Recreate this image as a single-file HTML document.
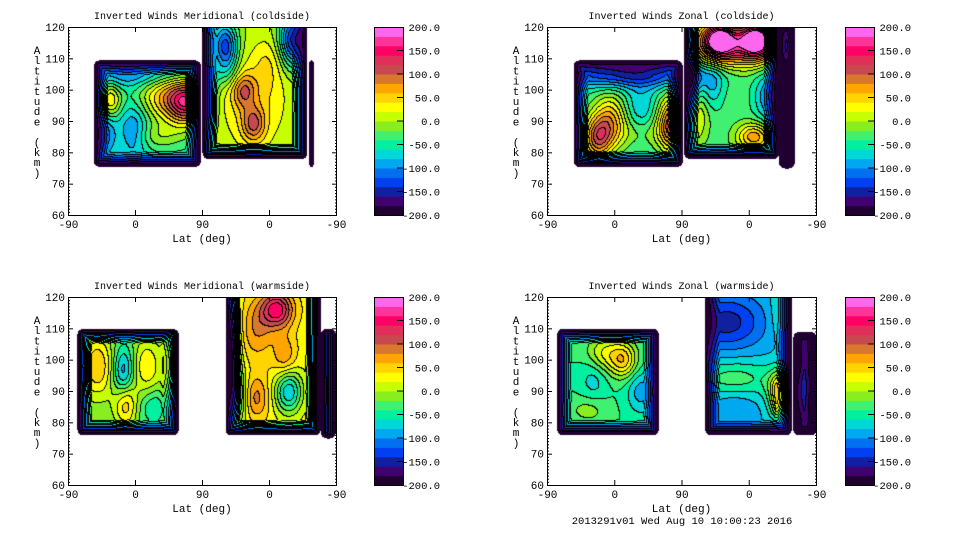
<!DOCTYPE html>
<html><head><meta charset="utf-8"><style>
body{margin:0;background:#fff;width:960px;height:540px;overflow:hidden;position:relative;font-family:"Liberation Mono",monospace}
canvas{position:absolute}
svg{position:absolute;left:0;top:0}
</style></head><body>
<canvas id="c0" width="268" height="188" style="left:68px;top:27px"></canvas>
<canvas id="c1" width="269" height="188" style="left:547px;top:27px"></canvas>
<canvas id="c2" width="268" height="188" style="left:68px;top:297px"></canvas>
<canvas id="c3" width="269" height="188" style="left:547px;top:297px"></canvas>
<svg id="s" width="960" height="540"></svg>
<script>
// colour levels (bottom -> top), each 20 wide from -200 to 200
const levelColors=["#200030","#400070","#1020a0","#0040f0","#0070f0","#00a8f0","#00d8d8","#00f0a0","#40f070","#88ee20","#c8ff00","#ffff00","#ffd400","#ffa500","#d8782e","#c84850","#e0305a","#ff0066","#ff3399","#ff66ee"];
const cbTicks=[200,150,100,50,0,-50,-100,-150,-200];
const cbLabels=["200.0","150.0","100.0","50.0","0.0","-50.0","-100.0","-150.0","-200.0"];
const altTicks=[60,70,80,90,100,110,120];
const trackTicks=[0,90,180,270,360];
const trackLabels=["-90","0","90","0","-90"];
const titles=["Inverted Winds Meridional (coldside)","Inverted Winds Zonal (coldside)","Inverted Winds Meridional (warmside)","Inverted Winds Zonal (warmside)"];
// blocks: [t0,t1,alt0,alt1,base]
const tlBlocks=[[34,178,75.5,109.5,-50],[180,321,78,120,0],[323,330,75,110,-215]];
const trBlocks=[[35,181,75.5,109.5,-40],[183,310,78,120,-30],[310,331,75,120,-220]];
const blBlocks=[[12,148,76,110,-20],[211,339,76,120,30],[339,359,75,110,-40]];
const brBlocks=[[13,149,76,110,-40],[211,327,76,120,-80],[329,360,76,109,-150]];
// blobs: [t, alt, peak value, sigma t, sigma alt]
const tlBlobs=[[56,96.7,40,11,4],[47,86,-120,11,5],[88,87,-110,14,6],[130,98,50,26,6],[160,96,115,18,5],[120,85,-10,26,3],[100,105,-110,60,3],
 [213,113,-110,11,6],[303,116,-150,13,6],[187,96,-120,9,6],[249,96,40,34,11],[236,100,75,11,4],[249,89,80,11,4],[268,108,30,14,6],[200,115,-40,14,5]];
const trBlobs=[[67,84.5,80,13,5],[85,90,60,16,6],[125,86,-20,32,3],[170,89,135,15,6],[110,105,-150,70,3],[125,95,-80,16,5],
 [230,116,150,14,3.5],[280,116,150,14,3.5],[255,114,120,45,5],[192,101,-140,9,7],[220,101,-80,11,5],[296,98,-100,13,6],[200,93,30,11,6],[277,85,75,16,3]];
const blBlobs=[[39,98,60,16,7],[74,96,-100,10,6],[106,98,40,13,6],[77,86,60,11,5],[144,101,140,8,6],[142,92,60,8,7],[115,85,-60,14,4],
 [281,116,150,15,4],[254,110,80,16,7],[291,101,80,11,5],[218,101,-150,8,12],[228,88,-40,11,6],[251,88,90,13,5],[296,90,-80,13,5],[339,90,-215,4,20]];
const brBlobs=[[102,100,50,13,4],[75,102,20,16,4],[62,94,-70,13,5],[125,90,-90,13,5],[55,84,-10,18,3],
 [240,112,-150,35,6],[317,115,-40,11,6],[250,94,-30,40,4],[317,91,75,13,4],[317,85,30,11,3],[250,85,-100,20,4],[211,100,60,4,6],[331,91,-220,6,9]];
const allBlocks=[tlBlocks,trBlocks,blBlocks,brBlocks];
const allBlobs=[tlBlobs,trBlobs,blBlobs,brBlobs];
const panelX=[68,547,68,547], panelY=[27,27,297,297], panelW=[268,269,268,269], PH=188;
const cbX=[374,845,374,845];

function hex(c){return [parseInt(c.substr(1,2),16),parseInt(c.substr(3,2),16),parseInt(c.substr(5,2),16)];}
const rgb=levelColors.map(hex);

for(let p=0;p<4;p++){
  const W=panelW[p];
  const tx=t=>t/360*W, ay=a=>(120-a)/60*PH;
  const blocks=allBlocks[p], blobs=allBlobs[p];
  const lev=new Int16Array(W*PH).fill(-1);
  const R=6;
  for(let y=0;y<PH;y++)for(let x=0;x<W;x++){
    const t=x/W*360, a=120-y/PH*60;
    let v=null;
    for(const b of blocks){
      const x0=tx(b[0]),x1=tx(b[1]),y0=ay(b[3]),y1=ay(b[2]);
      if(x<x0||x>x1||y<y0||y>y1)continue;
      const dx=Math.min(x-x0,x1-x);
      const dy=b[3]>=120?(y1-y):Math.min(y-y0,y1-y);
      let d;
      if(dx<R&&dy<R){d=R-Math.hypot(R-dx,R-dy);if(d<0)continue;}else d=Math.min(dx,dy);
      let val=b[4];
      for(const g of blobs){
        const e=Math.exp(-0.5*((t-g[0])/g[3])**2-0.5*((a-g[1])/g[4])**2);
        val+=(g[2]-b[4])*e;
      }
      const f=Math.min(1,d/15);
      val=-215+(val+215)*f;
      v=val;break;
    }
    if(v===null)continue;
    lev[y*W+x]=Math.max(0,Math.min(19,Math.floor((v+200)/20)));
  }
  const cv=document.getElementById('c'+p),ctx=cv.getContext('2d');
  const img=ctx.createImageData(W,PH);
  for(let y=0;y<PH;y++)for(let x=0;x<W;x++){
    const i=y*W+x,l=lev[i],o=i*4;
    let c=[255,255,255];
    if(l>=0){
      c=rgb[l];
      const r=x+1<W?lev[i+1]:-1, dn=y+1<PH?lev[i+W]:-1;
      if((r>=0&&r!==l)||(dn>=0&&dn!==l))c=[0,0,0];
    }
    img.data[o]=c[0];img.data[o+1]=c[1];img.data[o+2]=c[2];img.data[o+3]=255;
  }
  ctx.putImageData(img,0,0);
}

const NS="http://www.w3.org/2000/svg", svg=document.getElementById('s');
function mk(tag,at,txt){const e=document.createElementNS(NS,tag);for(const k in at)e.setAttribute(k,at[k]);if(txt!==undefined)e.textContent=txt;svg.appendChild(e);return e;}
for(let p=0;p<4;p++){
  const X=panelX[p],Y=panelY[p],W=panelW[p];
  let e=mk('rect',{x:X+0.5,y:Y+0.5,width:W,height:PH,fill:'none',stroke:'#000'});
  
  
  e=mk('text',{x:X+W/2,y:Y-8,'font-size':10,'text-anchor':'middle'},titles[p]);
  
  
  for(let a=60;a<=120;a++){
    const y=Y+0.5+(120-a)/60*PH, L=a%10===0?5:2;
    mk('line',{x1:X,x2:X+L,y1:y,y2:y,stroke:'#000'});
    mk('line',{x1:X+W+1,x2:X+W+1-L,y1:y,y2:y,stroke:'#000'});
  }
  altTicks.forEach(a=>{
    e=mk('text',{x:X-3,y:Y+(120-a)/60*PH+4,'font-size':11,'text-anchor':'end'},String(a));
    
    
  });
  trackTicks.forEach((t,i)=>{
    const x=X+0.5+t/360*W;
    mk('line',{x1:x,x2:x,y1:Y+PH,y2:Y+PH-5,stroke:'#000'});
    mk('line',{x1:x,x2:x,y1:Y,y2:Y+5,stroke:'#000'});
    e=mk('text',{x:x,y:Y+PH+13,'font-size':11,'text-anchor':'middle'},trackLabels[i]);
    
    
  });
  e=mk('text',{x:X+W/2,y:Y+PH+27,'font-size':11,'text-anchor':'middle'},"Lat (deg)");
  
  
  const lab="Altitude (km)";
  const g=mk('text',{x:X-31,y:Y+27,'font-size':11,'text-anchor':'middle'});
  
  
  for(let i=0;i<lab.length;i++){const ts=document.createElementNS(NS,'tspan');ts.setAttribute('x',X-31);ts.setAttribute('y',Y+27+i*10.2);ts.textContent=lab[i]===' '?'\u00a0':lab[i];g.appendChild(ts);}
  // colorbar
  const cx=cbX[p], cy0=Y, ch=188, bw=29;
  const cbY=v=>cy0+(200-v)/400*ch;
  levelColors.forEach((c,i)=>{
    const v0=-200+i*20;
    e=mk('rect',{x:cx,y:cbY(v0+20),width:bw,height:ch/20+0.5,fill:c});
    
    
  });
  mk('rect',{x:cx+0.5,y:cy0+0.5,width:bw,height:ch,fill:'none',stroke:'#000'});
  cbTicks.forEach((v,i)=>{
    const y=cbY(v);
    if(v<200&&v>-200)mk('line',{x1:cx+bw,x2:cx+bw-6,y1:y,y2:y,stroke:'#000'});
    e=mk('text',{x:cx+66,y:y+4,'font-size':10.5,'text-anchor':'end'},cbLabels[i]);
    
    
  });
}
let f=mk('text',{x:682,y:524,'font-size':10.5,'text-anchor':'middle'},"2013291v01 Wed Aug 10 10:00:23 2016");


</script>
</body></html>
